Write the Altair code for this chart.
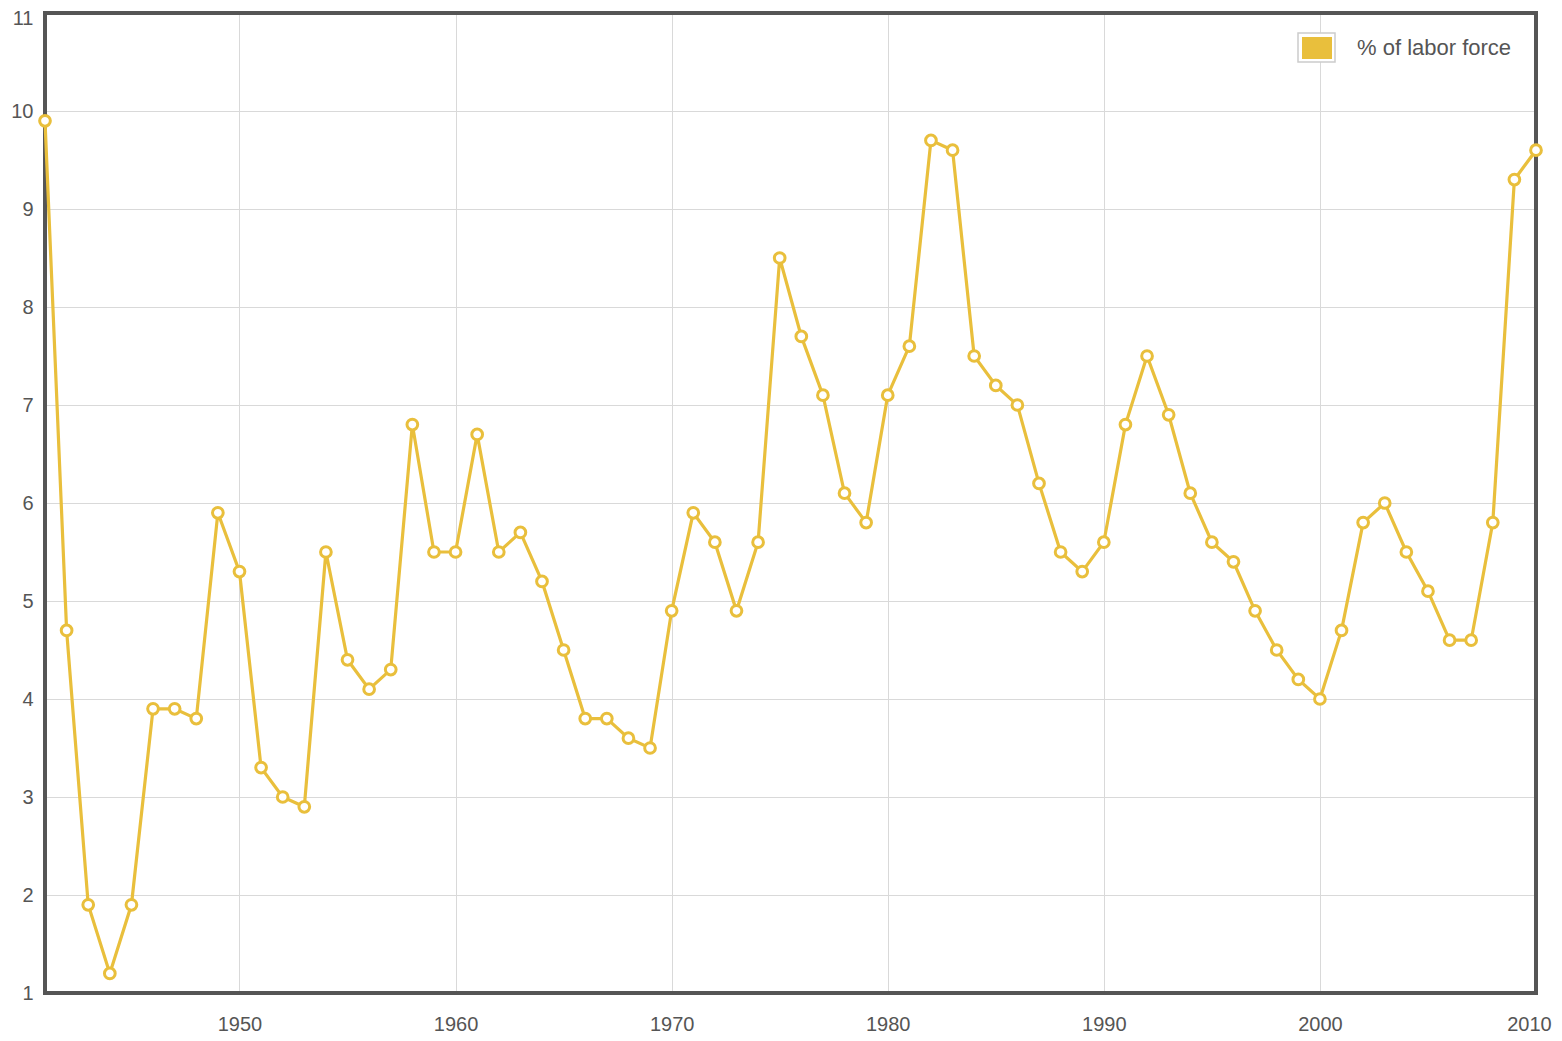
import altair as alt
import pandas as pd

years = list(range(1941, 2011))
rates = [9.9, 4.7, 1.9, 1.2, 1.9, 3.9, 3.9, 3.8, 5.9, 5.3,
         3.3, 3.0, 2.9, 5.5, 4.4, 4.1, 4.3, 6.8, 5.5, 5.5,
         6.7, 5.5, 5.7, 5.2, 4.5, 3.8, 3.8, 3.6, 3.5, 4.9,
         5.9, 5.6, 4.9, 5.6, 8.5, 7.7, 7.1, 6.1, 5.8, 7.1,
         7.6, 9.7, 9.6, 7.5, 7.2, 7.0, 6.2, 5.5, 5.3, 5.6,
         6.8, 7.5, 6.9, 6.1, 5.6, 5.4, 4.9, 4.5, 4.2, 4.0,
         4.7, 5.8, 6.0, 5.5, 5.1, 4.6, 4.6, 5.8, 9.3, 9.6]
x_ticks = [1950, 1960, 1970, 1980, 1990, 2000, 2010]
y_ticks = list(range(1, 12))
series_name = "% of labor force"

df = pd.DataFrame({"year": years, "rate": rates})
leg = pd.DataFrame({"label": [series_name]})

COLOR = "#E9BF3C"
TXT = "#555555"
FONT = "Liberation Sans"
W, H = 1491, 980

x = alt.X("year:Q", scale=alt.Scale(domain=[1941, 2010], nice=False, zero=False),
          axis=alt.Axis(values=x_ticks, format="d", title=None, domain=False, ticks=False,
                        labelFontSize=20, labelColor=TXT, labelPadding=21, labelFont=FONT,
                        gridColor="#d9d9d9", labelFlush=False, labelBound=False,
                        labelOffset=alt.condition("datum.value == 2010", alt.value(-7), alt.value(0))))
y = alt.Y("rate:Q", scale=alt.Scale(domain=[1, 11], nice=False, zero=False),
          axis=alt.Axis(values=y_ticks, title=None, domain=False, ticks=False,
                        labelFontSize=20, labelColor=TXT, labelPadding=12, labelFont=FONT,
                        gridColor="#d9d9d9", labelFlush=False,
                        labelOffset=alt.condition("datum.value == 11", alt.value(5), alt.value(0))))

border = alt.Chart(leg).mark_rect(fill="white", fillOpacity=0, stroke="#555555",
                                  strokeWidth=4).encode(
    x=alt.value(0), x2=alt.value(W), y=alt.value(0), y2=alt.value(H))

line = alt.Chart(df).mark_line(color=COLOR, strokeWidth=3.2).encode(x=x, y=y)
pts = alt.Chart(df).mark_point(filled=True, fill="white", stroke=COLOR, strokeWidth=3,
                               size=115, opacity=1).encode(x=x, y=y)

box_outer = alt.Chart(leg).mark_rect(fill="white", stroke="#cccccc", strokeWidth=1.5).encode(
    x=alt.value(1253), x2=alt.value(1290), y=alt.value(20), y2=alt.value(49))
box_inner = alt.Chart(leg).mark_rect(fill=COLOR).encode(
    x=alt.value(1257), x2=alt.value(1287), y=alt.value(24), y2=alt.value(46))
leg_text = alt.Chart(leg).mark_text(align="left", baseline="middle", fontSize=22,
                                    color=TXT, font=FONT).encode(
    x=alt.value(1312), y=alt.value(35), text="label:N")

chart = alt.layer(border, line, pts, box_outer, box_inner, leg_text).properties(
    width=W, height=H,
    autosize=alt.AutoSizeParams(type="none"),
    padding={"left": 37, "top": 5, "right": 16, "bottom": 40},
).configure(font=FONT).configure_view(strokeWidth=0)

chart.save("out.html", embed_options={"renderer": "svg", "actions": False})
